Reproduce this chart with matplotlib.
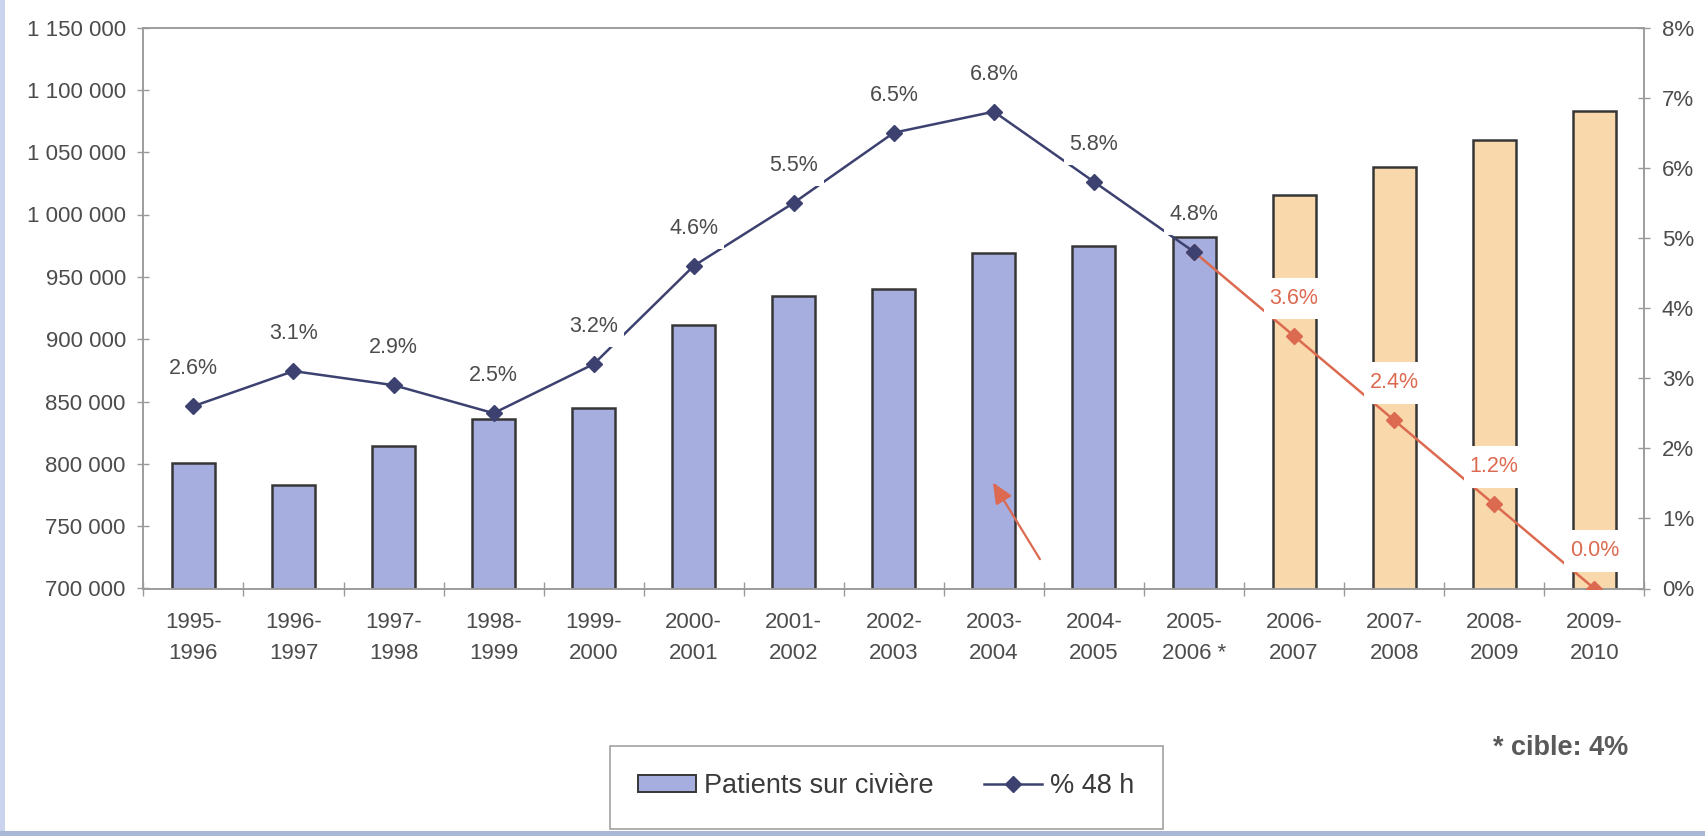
import matplotlib
matplotlib.use("Agg")
import matplotlib.pyplot as plt
from matplotlib.patches import Rectangle, Patch
from matplotlib.lines import Line2D
from matplotlib.path import Path
from matplotlib.ticker import FuncFormatter, FixedLocator

plt.rcParams['font.family'] = ['Liberation Sans', 'DejaVu Sans']

# ---- data ----
categories = ["1995-\n1996", "1996-\n1997", "1997-\n1998", "1998-\n1999", "1999-\n2000",
              "2000-\n2001", "2001-\n2002", "2002-\n2003", "2003-\n2004", "2004-\n2005",
              "2005-\n2006 *", "2006-\n2007", "2007-\n2008", "2008-\n2009", "2009-\n2010"]
patients = [801000, 783000, 814000, 836000, 845000,
            911000, 935000, 940000, 969000, 975000,
            982000, 1016000, 1038000, 1060000, 1083000]
pct_48h = [2.6, 3.1, 2.9, 2.5, 3.2, 4.6, 5.5, 6.5, 6.8, 5.8, 4.8]
pct_target = [4.8, 3.6, 2.4, 1.2, 0.0]
n_actual = 11
legend_labels = ["Patients sur civière", "% 48 h"]
note_text = "* cible: 4%"

# ---- style ----
blue_fill = '#a6aee0'
peach_fill = '#f9d8ac'
edge = '#363636'
navy = '#3c4170'
red = '#dc6a50'
axis_gray = '#9a9a9a'
text_col = '#4c4c4c'


def label_box(x0, y0, width, height, mutation_size):
    padx = 0.27 * mutation_size
    pady = 0.48 * mutation_size
    verts = [(x0 - padx, y0 - pady), (x0 + width + padx, y0 - pady),
             (x0 + width + padx, y0 + height + pady), (x0 - padx, y0 + height + pady),
             (x0 - padx, y0 - pady)]
    return Path(verts, closed=True)


fig = plt.figure(figsize=(17.05, 8.36), dpi=100)
fig.patch.set_facecolor('white')
L, R, T, B = 143.4 / 1705, 1644.3 / 1705, 1 - 27.5 / 836, 1 - 588.5 / 836
ax = fig.add_axes([L, B, R - L, T - B])

x = list(range(len(categories)))
colors = [blue_fill if i < n_actual else peach_fill for i in x]
ax.bar(x, patients, width=0.43, color=colors, edgecolor=edge, linewidth=1.8, zorder=2)

ax.set_xlim(-0.5, len(categories) - 0.5)
ax.set_ylim(700000, 1150000)
ax.yaxis.set_major_locator(FixedLocator(list(range(700000, 1150001, 50000))))
ax.yaxis.set_major_formatter(FuncFormatter(lambda v, p: f"{int(v):,}".replace(",", " ")))
ax.set_xticks(x)
ax.set_xticklabels(categories, fontsize=16, color=text_col, linespacing=1.6)
ax.set_xticks([i - 0.5 for i in range(len(categories) + 1)], minor=True)
ax.tick_params(axis='x', which='major', length=0, pad=17)
ax.tick_params(axis='x', which='minor', direction='inout', length=10, width=1, color=axis_gray)
ax.tick_params(axis='y', direction='inout', length=8.6, width=1, color=axis_gray,
               labelsize=16, labelcolor=text_col, pad=8.4)
for s in ax.spines.values():
    s.set_color(axis_gray)
    s.set_linewidth(1.1)

ax2 = ax.twinx()
ax2.set_ylim(0, 8)
ax2.set_yticks(range(0, 9))
ax2.yaxis.set_major_formatter(FuncFormatter(lambda v, p: f"{int(v)}%"))
ax2.tick_params(axis='y', direction='inout', length=8.6, width=1, color=axis_gray,
                labelsize=16, labelcolor=text_col, pad=8.4)
for s in ax2.spines.values():
    s.set_color(axis_gray)
    s.set_linewidth(1.1)
ax2.set_zorder(ax.get_zorder() + 1)
ax2.patch.set_visible(False)

x_act = x[:n_actual]
x_tgt = x[n_actual - 1:]
ax2.plot(x_tgt, pct_target, color=red, lw=1.8, marker='D', ms=8, mfc=red, mec=red, zorder=3)
ax2.plot(x_act, pct_48h, color=navy, lw=1.8, marker='D', ms=8, mfc=navy, mec=navy, zorder=4)

bbox_w = dict(boxstyle=label_box, facecolor='white', edgecolor='none')
for xi, v in zip(x_act, pct_48h):
    ax2.annotate(f"{v:.1f}%", (xi, v), xytext=(0, 27), textcoords='offset points',
                 ha='center', va='center', fontsize=15.5, color=text_col, bbox=bbox_w, zorder=5)
for xi, v in zip(x_tgt[1:], pct_target[1:]):
    ax2.annotate(f"{v:.1f}%", (xi, v), xytext=(0, 27), textcoords='offset points',
                 ha='center', va='center', fontsize=15.5, color=red, bbox=bbox_w, zorder=5)

# red arrow
ax.annotate('', xy=(7.99, 785000), xytext=(8.46, 723500),
            arrowprops=dict(arrowstyle='-|>,head_length=0.9,head_width=0.4', color=red,
                            lw=1.6, mutation_scale=14, shrinkA=0, shrinkB=0), zorder=6)

# legend
handles = [Patch(facecolor=blue_fill, edgecolor=edge, linewidth=1.4),
           Line2D([0], [0], color=navy, lw=1.8, marker='D', ms=8, mfc=navy, mec=navy)]
leg = fig.legend(handles, legend_labels, loc='center left', bbox_to_anchor=(637.9 / 1705, 1 - 786 / 836),
                 ncol=2, frameon=False, fontsize=19.5, borderpad=0, borderaxespad=0,
                 handlelength=2.13, handleheight=0.61, handletextpad=0.32, columnspacing=1.85)
for t in leg.get_texts():
    t.set_color('#3a3a3a')
fig.patches.append(Rectangle((609.5 / 1705, 1 - 829 / 836), (1162.5 - 609.5) / 1705, (829 - 745.7) / 836,
                             transform=fig.transFigure, fill=False, edgecolor=axis_gray, lw=1.1))

fig.text(1628.3 / 1705, 1 - 748.3 / 836, note_text, ha='right', va='center', fontsize=19.5,
         fontweight='bold', color='#5a5a5a')

# scan border strips
fig.patches.append(Rectangle((0, 0), 0.003, 1, transform=fig.transFigure,
                             facecolor='#c9d3ee', edgecolor='none'))
fig.patches.append(Rectangle((0, 0), 1, 0.006, transform=fig.transFigure,
                             facecolor='#aab6d6', edgecolor='none'))

fig.savefig('out.png', dpi=100)
